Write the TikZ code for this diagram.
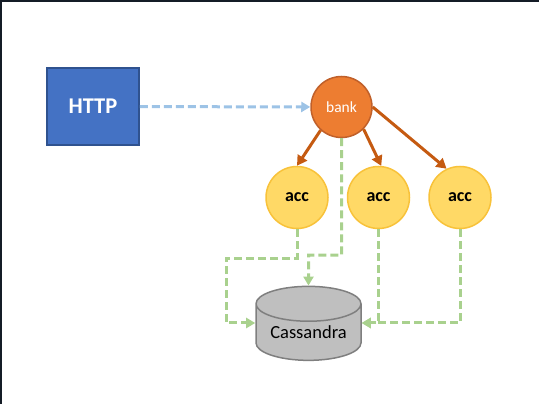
\documentclass[tikz,border=0pt]{standalone}
\usepackage{fontspec}
\setmainfont{Carlito}
\usetikzlibrary{arrows.meta,shapes.geometric}

\definecolor{httpblue}{HTML}{4472C4}
\definecolor{httpedge}{HTML}{2F528F}
\definecolor{linkblue}{HTML}{9DC3E6}
\definecolor{bankorange}{HTML}{ED7D31}
\definecolor{bankedge}{HTML}{C0602A}
\definecolor{callorange}{HTML}{C55A11}
\definecolor{accyellow}{HTML}{FFD966}
\definecolor{accedge}{HTML}{F8C23A}
\definecolor{storegreen}{HTML}{A9D18E}
\definecolor{dbgray}{HTML}{BFBFBF}
\definecolor{dbedge}{HTML}{7F7F7F}
\definecolor{frame}{HTML}{141C26}

\begin{document}
\begin{tikzpicture}[x=1pt,y=-1pt,
	httpbox/.style={draw=httpedge,line width=1.8pt,fill=httpblue,minimum width=92pt,minimum height=77pt,
		text=white,font=\fontsize{22.5}{22.5}\selectfont\bfseries},
	bankball/.style={circle,draw=bankedge,line width=1.5pt,fill=bankorange,minimum size=61pt,inner sep=0pt,
		text=white,font=\fontsize{15.5}{15.5}\selectfont},
	accball/.style={circle,draw=accedge,line width=1.5pt,fill=accyellow,minimum size=62pt,inner sep=0pt,
		font=\fontsize{18}{18}\selectfont\bfseries},
	store/.style={cylinder,shape border rotate=90,aspect=0.42,draw=dbedge,line width=1.5pt,fill=dbgray,
		minimum width=105pt,minimum height=74pt,font=\fontsize{18.5}{18.5}\selectfont},
	request/.style={draw=linkblue,line width=3pt,dash pattern=on 8pt off 4pt,-{Triangle[length=9pt,width=10pt]}},
	call/.style={draw=callorange,line width=3pt,-{Triangle[length=10pt,width=11pt]}},
	persist/.style={draw=storegreen,line width=3pt,dash pattern=on 8pt off 4pt,-{Triangle[length=9pt,width=10pt]}}]
	\useasboundingbox (0,0) rectangle (539,404);
	%dark frame on top and left
	\fill[frame] (0,0) rectangle (539,2);
	\fill[frame] (0,0) rectangle (2,404);

	\node[httpbox] (http) at (93,106.5) {HTTP};
	\node[bankball] (bank) at (341.5,107) {bank};
	\foreach \n/\x in {1/297,2/378.5,3/460}{
		\node[accball] (acc\n) at (\x,197.5) {acc};}
	\node[store] (db) at (308.5,335.5) {\raisebox{7pt}{Cassandra}};	%shape sits above its text

	%bends of the green lines
	\coordinate (bendA) at (226,258);
	\coordinate (bendB) at (308.5,255);
	\coordinate (dbleft) at ([yshift=12.5pt]db.west);
	\coordinate (dbright) at ([yshift=12.5pt]db.east);

	\draw[request] (http) -- (bank);
	\draw[call] (bank.228) -- (acc1.90);
	\draw[call] (bank.-45) -- (acc2.85);
	\draw[call] (bank.0) -- (acc3.115);

	\draw[persist] (acc1.south) |- (bendA) |- (dbleft);
	\draw[persist] (bank.south) |- (bendB) -- (db.north);
	\draw[persist] (acc2.south) |- (dbright);
	\draw[persist] (acc3.south) |- (dbright);
\end{tikzpicture}
\end{document}
